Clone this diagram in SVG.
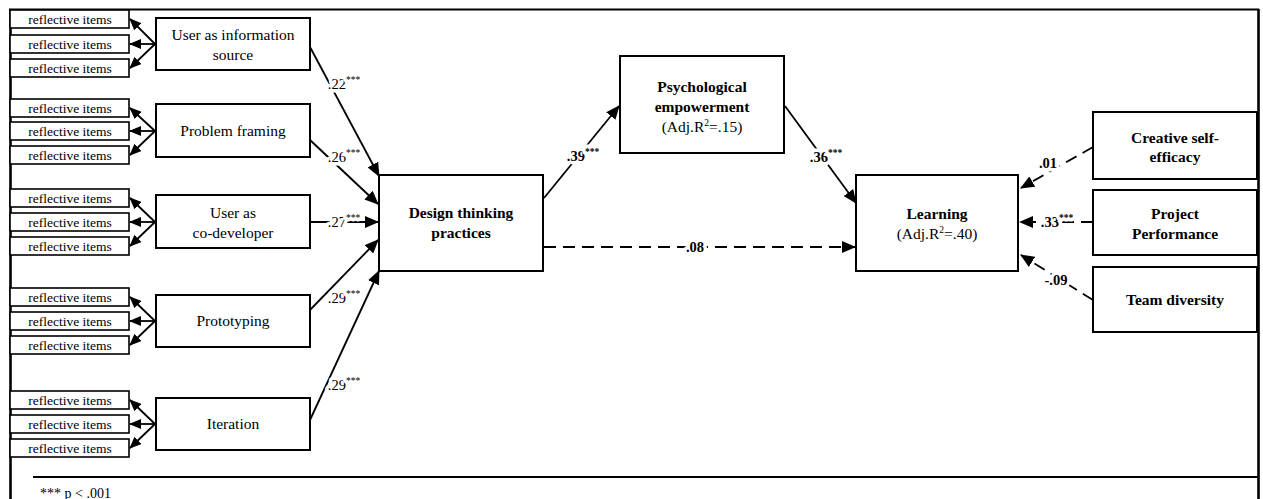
<svg xmlns="http://www.w3.org/2000/svg" width="1263" height="499" viewBox="0 0 1263 499" font-family="Liberation Serif, Times New Roman, DejaVu Serif, serif">
<style>
text{font-family:'Liberation Serif','Times New Roman','DejaVu Serif',serif}
.bx{fill:#fff;stroke:#000;stroke-width:2}
.ri{fill:#fff;stroke:#000;stroke-width:1.6}
.t{fill:#000;text-anchor:middle}
.r{font-size:13.5px}
.n{font-size:15.5px}
.b{font-size:15.5px;font-weight:bold}
.lb{font-size:14.5px;fill:#000;text-anchor:middle;paint-order:stroke;stroke:#fff;stroke-width:7px;stroke-linejoin:round}
.lbb{font-weight:bold}
.c{stroke:#000;stroke-width:1.8;fill:none}
.d{stroke-dasharray:12 7}
.s{font-size:9.5px}
</style>
<defs>
<marker id="ah" markerUnits="userSpaceOnUse" markerWidth="14" markerHeight="12" viewBox="0 0 14 12" refX="13" refY="6" orient="auto">
<path d="M0,0 L14,6 L0,12 Z" fill="#000"/>
</marker>
<marker id="ahs" markerUnits="userSpaceOnUse" markerWidth="12" markerHeight="10" viewBox="0 0 12 10" refX="11" refY="5" orient="auto">
<path d="M0,0 L12,5 L0,10 Z" fill="#000"/>
</marker>
</defs>
<g id="frame" fill="none" stroke="#000">
<line x1="9" y1="9.5" x2="1259" y2="9.5" stroke-width="2.2"/>
<line x1="10.5" y1="9" x2="10.5" y2="499" stroke-width="2.6"/>
<line x1="1258.5" y1="9" x2="1258.5" y2="499" stroke-width="2.6"/>
<line x1="33" y1="477" x2="1258" y2="477" stroke-width="1.8"/>
</g>
<g id="connectors">
<g marker-end="url(#ahs)" class="c">
<line x1="155" y1="44" x2="130" y2="19"/><line x1="155" y1="44" x2="130" y2="44"/><line x1="155" y1="44" x2="130" y2="68"/>
<line x1="155" y1="131" x2="130" y2="108"/><line x1="155" y1="131" x2="130" y2="131"/><line x1="155" y1="131" x2="130" y2="155"/>
<line x1="155" y1="222" x2="130" y2="198"/><line x1="155" y1="222" x2="130" y2="222"/><line x1="155" y1="222" x2="130" y2="246"/>
<line x1="155" y1="321" x2="130" y2="297"/><line x1="155" y1="321" x2="130" y2="321"/><line x1="155" y1="321" x2="130" y2="345"/>
<line x1="155" y1="424" x2="130" y2="400"/><line x1="155" y1="424" x2="130" y2="424"/><line x1="155" y1="424" x2="130" y2="448"/>
</g>
<g class="c" marker-end="url(#ah)">
<line x1="310" y1="47" x2="379" y2="176"/>
<line x1="310" y1="140" x2="378" y2="204"/>
<line x1="310" y1="222" x2="378" y2="222"/>
<line x1="310" y1="310" x2="378" y2="240"/>
<line x1="310" y1="420" x2="379" y2="271"/>
<line x1="544" y1="198" x2="619" y2="106"/>
<line x1="785" y1="106" x2="856" y2="203"/>
<line x1="544" y1="247" x2="855" y2="247" class="c d"/>
<line x1="1093" y1="147" x2="1021" y2="188" class="c d"/>
<line x1="1093" y1="222" x2="1020" y2="222" class="c d"/>
<line x1="1093" y1="300" x2="1021" y2="255" class="c d"/>
</g>
<g id="labels">
<text class="lb" x="344" y="89">.22<tspan class="s" dy="-6">***</tspan></text>
<text class="lb" x="344" y="162">.26<tspan class="s" dy="-6">***</tspan></text>
<text class="lb" x="344" y="227">.27<tspan class="s" dy="-6">***</tspan></text>
<text class="lb" x="344" y="303">.29<tspan class="s" dy="-6">***</tspan></text>
<text class="lb" x="344" y="390">.29<tspan class="s" dy="-6">***</tspan></text>
<text class="lb lbb" x="583" y="161">.39<tspan class="s" dy="-6">***</tspan></text>
<text class="lb lbb" x="826" y="162">.36<tspan class="s" dy="-6">***</tspan></text>
<text class="lb lbb" x="695" y="252">.08</text>
<text class="lb lbb" x="1048" y="168">.01</text>
<text class="lb lbb" x="1057" y="227">.33<tspan class="s" dy="-6">***</tspan></text>
<text class="lb lbb" x="1056" y="285">-.09</text>
</g>
</g>
<g id="ri1"><rect class="ri" x="10" y="10" width="119" height="18"/><text class="t r" x="70" y="23.5">reflective items</text></g>
<g id="ri2"><rect class="ri" x="10" y="35" width="119" height="18"/><text class="t r" x="70" y="48.5">reflective items</text></g>
<g id="ri3"><rect class="ri" x="10" y="59" width="119" height="18"/><text class="t r" x="70" y="72.5">reflective items</text></g>
<g id="ri4"><rect class="ri" x="10" y="99" width="119" height="18"/><text class="t r" x="70" y="112.5">reflective items</text></g>
<g id="ri5"><rect class="ri" x="10" y="122" width="119" height="18"/><text class="t r" x="70" y="135.5">reflective items</text></g>
<g id="ri6"><rect class="ri" x="10" y="146" width="119" height="18"/><text class="t r" x="70" y="159.5">reflective items</text></g>
<g id="ri7"><rect class="ri" x="10" y="189" width="119" height="18"/><text class="t r" x="70" y="202.5">reflective items</text></g>
<g id="ri8"><rect class="ri" x="10" y="213" width="119" height="18"/><text class="t r" x="70" y="226.5">reflective items</text></g>
<g id="ri9"><rect class="ri" x="10" y="237" width="119" height="18"/><text class="t r" x="70" y="250.5">reflective items</text></g>
<g id="ri10"><rect class="ri" x="10" y="288" width="119" height="18"/><text class="t r" x="70" y="301.5">reflective items</text></g>
<g id="ri11"><rect class="ri" x="10" y="312" width="119" height="18"/><text class="t r" x="70" y="325.5">reflective items</text></g>
<g id="ri12"><rect class="ri" x="10" y="336" width="119" height="18"/><text class="t r" x="70" y="349.5">reflective items</text></g>
<g id="ri13"><rect class="ri" x="10" y="391" width="119" height="18"/><text class="t r" x="70" y="404.5">reflective items</text></g>
<g id="ri14"><rect class="ri" x="10" y="415" width="119" height="18"/><text class="t r" x="70" y="428.5">reflective items</text></g>
<g id="ri15"><rect class="ri" x="10" y="439" width="119" height="18"/><text class="t r" x="70" y="452.5">reflective items</text></g>
<g id="uis"><rect class="bx" x="156" y="18" width="154" height="52"/><text class="t n" x="233" y="40">User as information</text><text class="t n" x="233" y="60">source</text></g>
<g id="pf"><rect class="bx" x="156" y="104" width="154" height="53"/><text class="t n" x="233" y="136">Problem framing</text></g>
<g id="ucd"><rect class="bx" x="156" y="195" width="154" height="53"/><text class="t n" x="233" y="218">User as</text><text class="t n" x="233" y="238">co-developer</text></g>
<g id="proto"><rect class="bx" x="156" y="295" width="154" height="52"/><text class="t n" x="233" y="326">Prototyping</text></g>
<g id="iter"><rect class="bx" x="156" y="398" width="154" height="52"/><text class="t n" x="233" y="429">Iteration</text></g>
<g id="dtp"><rect class="bx" x="379" y="175" width="164" height="96"/><text class="t b" x="461" y="218">Design thinking</text><text class="t b" x="461" y="238">practices</text></g>
<g id="pe"><rect class="bx" x="620" y="56" width="164" height="97"/><text class="t b" x="702" y="92">Psychological</text><text class="t b" x="702" y="112">empowerment</text><text class="t n" x="702" y="132">(Adj.R<tspan class="s" dy="-6">2</tspan><tspan dy="6">=.15)</tspan></text></g>
<g id="learn"><rect class="bx" x="856" y="175" width="162" height="96"/><text class="t b" x="937" y="219">Learning</text><text class="t n" x="937" y="239">(Adj.R<tspan class="s" dy="-6">2</tspan><tspan dy="6">=.40)</tspan></text></g>
<g id="cse"><rect class="bx" x="1093" y="112" width="164" height="67"/><text class="t b" x="1175" y="143">Creative self-</text><text class="t b" x="1175" y="162">efficacy</text></g>
<g id="pp"><rect class="bx" x="1093" y="190" width="164" height="65"/><text class="t b" x="1175" y="219">Project</text><text class="t b" x="1175" y="239">Performance</text></g>
<g id="td"><rect class="bx" x="1093" y="267" width="164" height="65"/><text class="t b" x="1175" y="305">Team diversity</text></g>
<text x="40" y="498" font-size="14">*** p &lt; .001</text>
</svg>
